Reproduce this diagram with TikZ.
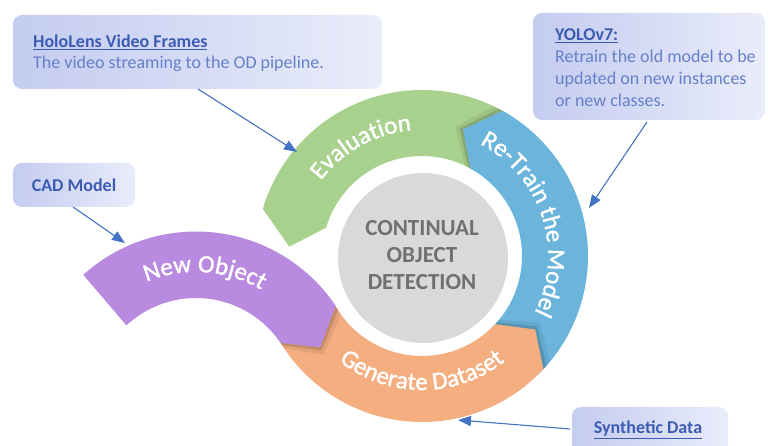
\documentclass[tikz,border=0pt]{standalone}
\usepackage{fontspec}
\setmainfont{Carlito}
\newfontfamily\arcfamily[FakeBold=1.2]{Carlito}
\usetikzlibrary{arrows.meta,decorations.text}

\definecolor{evalgreen}{HTML}{A9D18E}
\definecolor{trainblue}{HTML}{6BB5DD}
\definecolor{genorange}{HTML}{F4AE80}
\definecolor{objpurple}{HTML}{B98BE0}
\definecolor{hubgray}{HTML}{D9D9D9}
\definecolor{hubtext}{HTML}{707070}
\definecolor{linkblue}{HTML}{4472C4}
\definecolor{titleblue}{HTML}{3C5CB4}
\definecolor{bodyblue}{HTML}{6680C8}
\definecolor{boxleft}{HTML}{C4CCF0}
\definecolor{boxright}{HTML}{E9ECFA}

% ring segments around the hub (local frame centred on the hub)
\newcommand\greenseg{(58:166pt) arc[start angle=58,end angle=163.5,radius=166pt] -- (176:133pt) -- (163.5:100pt) arc[start angle=163.5,end angle=58,radius=100pt] -- (68:133pt) -- cycle}
\newcommand\blueseg{(-46:166pt) arc[start angle=-46,end angle=61,radius=166pt] -- (72:133pt) -- (61:100pt) arc[start angle=61,end angle=-46,radius=100pt] -- (-36:133pt) -- cycle}
\newcommand\orangeseg{(211.6:166pt) arc[start angle=211.6,end angle=317,radius=166pt] -- (327:135pt) -- (317:100pt) arc[start angle=317,end angle=210,radius=100pt] -- (219:133pt) -- cycle}
% the separate "New Object" arc (local frame centred on its own centre)
\newcommand\purpleseg{(132:168.5pt) arc[start angle=132,end angle=34,radius=168.5pt] -- (23:135pt) -- (34:102pt) arc[start angle=34,end angle=133,radius=102pt] -- cycle}

\newcommand\arcfont{\arcfamily\fontsize{25}{30}\selectfont}

\tikzset{
  callout/.style={rectangle, rounded corners=9pt, left color=boxleft, right color=boxright, draw=none, inner sep=0pt},
  boxtitle/.style={anchor=base west, inner sep=0pt, text=titleblue, font=\fontsize{18}{22}\selectfont\bfseries},
  boxbody/.style={anchor=base west, inner sep=0pt, text=bodyblue, font=\fontsize{18}{22}\selectfont},
  link/.style={draw=linkblue, line width=1.1pt, -{Triangle[length=13pt,width=10pt]}},
  shade1/.style={fill=black, opacity=0.13},
  shade2/.style={fill=black, opacity=0.07},
  arclabel/.style={decorate, decoration={text along path, text align=center, text color=white, text={|\arcfont|#1}}}
}

\begin{document}
\begin{tikzpicture}[x=1pt,y=1pt]
\useasboundingbox (0,0) rectangle (768,446);
\clip (0,0) rectangle (768,446);

% --- cycle ring ---
\begin{scope}[shift={(422,190)}]
  \fill[evalgreen] \greenseg;
  \begin{scope}
    \clip \greenseg;
    \fill[shade2, rotate=3.5] \blueseg;
    \fill[shade1, rotate=1.5] \blueseg;
  \end{scope}
  \fill[trainblue] \blueseg;
  \begin{scope}
    \clip \blueseg;
    \fill[shade2, rotate=3.5] \orangeseg;
    \fill[shade1, rotate=1.5] \orangeseg;
  \end{scope}
  \fill[genorange] \orangeseg;
  \begin{scope}
    \clip \orangeseg;
    \begin{scope}[shift={(-226,-144)}]
      \fill[shade2, rotate=-3.5] \purpleseg;
      \fill[shade1, rotate=-1.5] \purpleseg;
    \end{scope}
  \end{scope}
  \path[arclabel=Evaluation] (150:126pt) arc[start angle=150,end angle=88,radius=126pt];
  \path[arclabel=Re-Train the Model] (72:126pt) arc[start angle=72,end angle=-36,radius=126pt];
  \path[arclabel=Generate Dataset] (218:134pt) arc[start angle=218,end angle=322,radius=134pt];
\end{scope}

\begin{scope}[shift={(196,46)}]
  \fill[objpurple] \purpleseg;
  \path[arclabel=New Object] (130:128pt) arc[start angle=130,end angle=42,radius=128pt];
\end{scope}

% --- hub ---
\node[circle, fill=hubgray, minimum size=170pt, inner sep=0pt] (hub) at (423,188) {};
\node[align=center, text=hubtext, font=\fontsize{23}{27}\selectfont\bfseries] (hubtext) at (422,191) {CONTINUAL\\OBJECT\\DETECTION};

% --- callout boxes ---
\node[callout, minimum width=369pt, minimum height=74pt] (holo) at (197.5,394) {};
\node[boxtitle] (holotitle) at (33,398) {\underline{HoloLens Video Frames}};
\node[boxbody] (holobody) at (33,377) {The video streaming to the OD pipeline.};

\node[callout, minimum width=232pt, minimum height=107pt] (yolo) at (649,379.5) {};
\node[boxtitle] (yolotitle) at (555,405) {\underline{YOLOv7:}};
\node[boxbody] (yololine1) at (555,383) {Retrain the old model to be};
\node[boxbody] (yololine2) at (555,361) {updated on new instances};
\node[boxbody] (yololine3) at (555,339) {or new classes.};

\node[callout, minimum width=122pt, minimum height=44pt, text=titleblue, font=\fontsize{18}{22}\selectfont\bfseries] (cad) at (74,261) {CAD Model};

\node[callout, minimum width=156pt, minimum height=56pt] (synth) at (650,11) {};
\node[text=titleblue, font=\fontsize{18}{22}\selectfont\bfseries, inner sep=0pt] (synthtitle) at (648,16) {\underline{Synthetic Data}};

% --- connectors ---
\coordinate (holofoot) at (198,357);
\coordinate (evaltip) at (297,294);
\coordinate (yolofoot) at (647,324);
\coordinate (traintip) at (589,238);
\coordinate (cadfoot) at (73,239);
\coordinate (objtip) at (125,203);
\coordinate (synthfoot) at (570,17);
\coordinate (gentip) at (458,26);

\draw[link] (holofoot) -- (evaltip);
\draw[link] (yolofoot) -- (traintip);
\draw[link] (cadfoot) -- (objtip);
\draw[link] (synthfoot) -- (gentip);
\end{tikzpicture}
\end{document}
